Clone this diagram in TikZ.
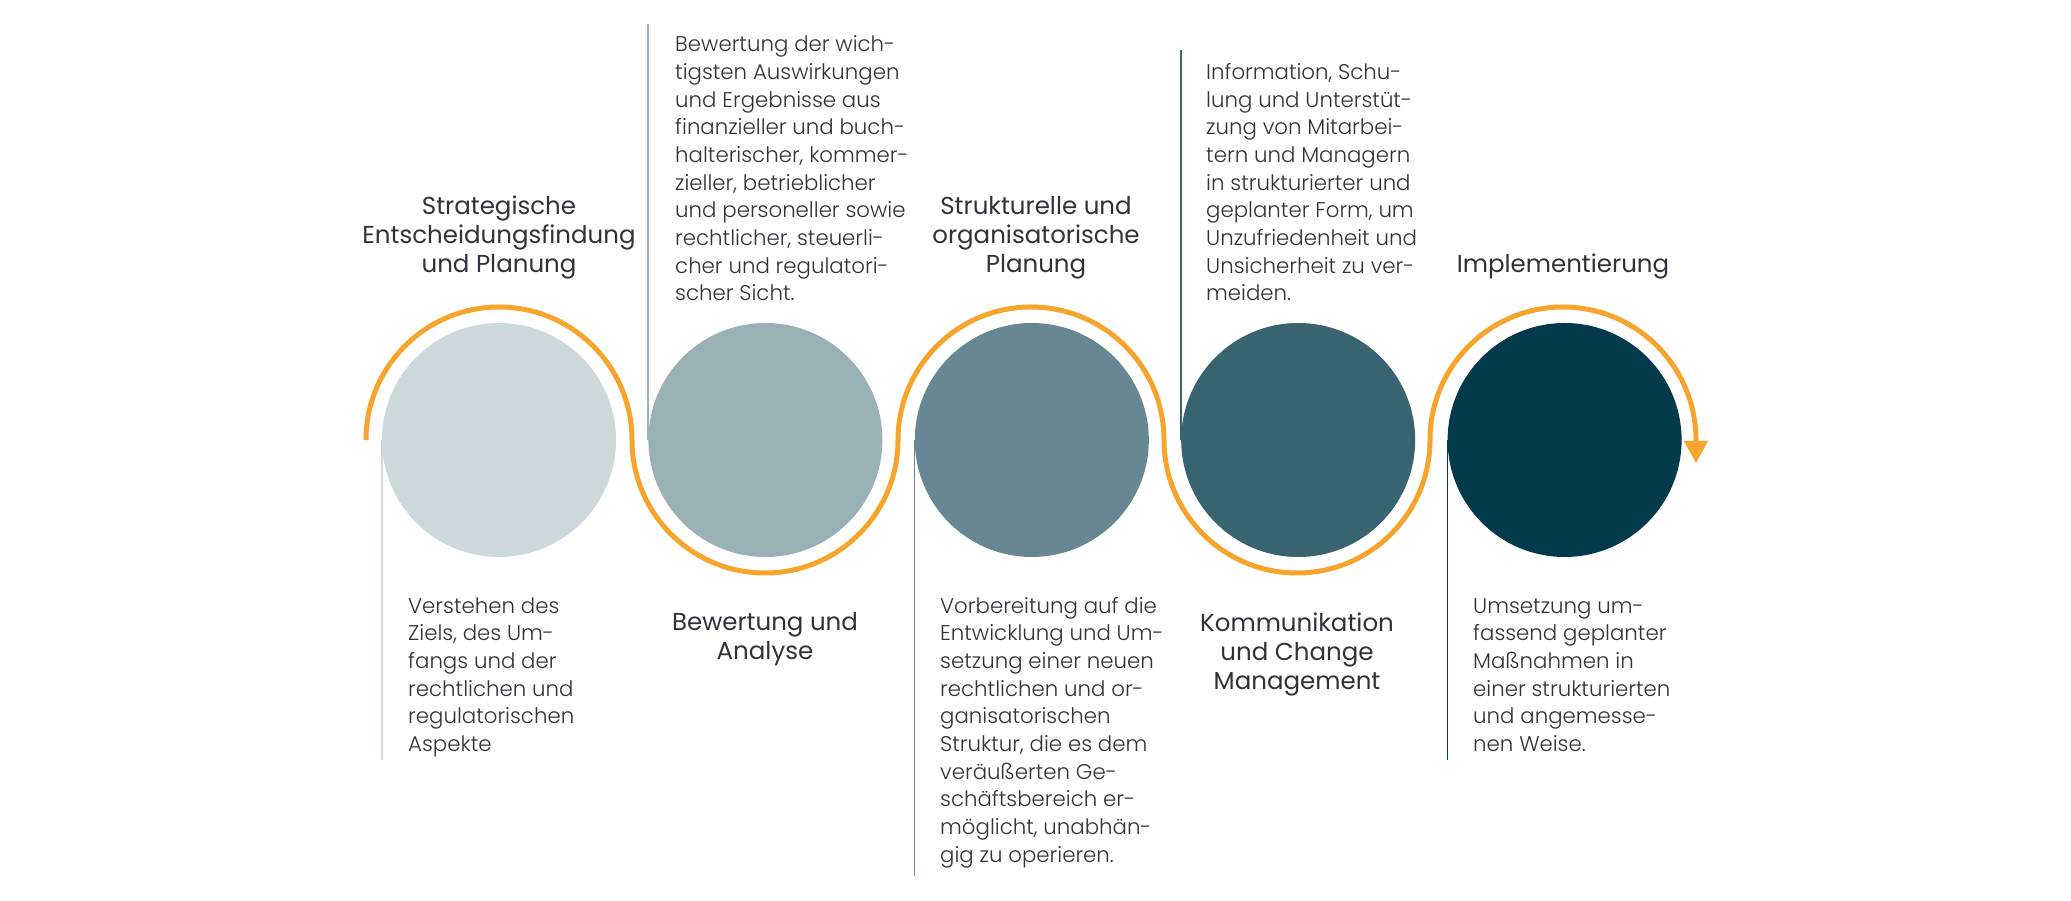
\documentclass[tikz,border=0pt]{standalone}
\usepackage{fontspec}
\setmainfont{Poppins}
\newfontfamily\lightfont{Poppins Light}
\usetikzlibrary{positioning}
\usetikzlibrary{arrows.meta}

\definecolor{stepA}{HTML}{CCD8DC}
\definecolor{stepB}{HTML}{9AB0B7}
\definecolor{stepC}{HTML}{678893}
\definecolor{stepD}{HTML}{386370}
\definecolor{stepE}{HTML}{033A4B}
\definecolor{flowcol}{HTML}{F6A42C}
\definecolor{inkcol}{HTML}{30323A}

\begin{document}
\begin{tikzpicture}[x=1pt, y=1pt, node distance=32pt]
    \tikzstyle{disc} = [circle, minimum size=234pt, inner sep=0pt];
    \tikzstyle{headtext} = [align=center, text=inkcol, inner sep=0pt,
    font=\fontsize{24.5}{29.3}\selectfont, anchor=base];
    \tikzstyle{bodytext} = [align=left, text=inkcol, inner sep=0pt,
    font=\lightfont\fontsize{21.3}{27.7}\selectfont, anchor=base west];
    \tikzstyle{flowline} = [draw=flowcol, line width=5pt,
    -{Triangle[width=23pt, length=22pt]}];
    \tikzstyle{stem} = [line width=1.5pt];
    \useasboundingbox (0,-461) rectangle (2071,440);
    % circles
    \node [disc, fill=stepA] (a) at (499,0) {};
    \node [disc, fill=stepB, right=of a] (b) {};
    \node [disc, fill=stepC, right=of b] (c) {};
    \node [disc, fill=stepD, right=of c] (d) {};
    \node [disc, fill=stepE, right=of d] (e) {};
    % stems
    \draw[stem, draw=stepA] (a.west) -- ++(0,-320);
    \draw[stem, draw=stepB] (b.west) -- ++(0,416);
    \draw[stem, draw=stepC] (c.west) -- ++(0,-436);
    \draw[stem, draw=stepD] (d.west) -- ++(0,390);
    \draw[stem, draw=stepE] (e.west) -- ++(0,-320);
    % orange wave
    \draw[flowline] ([xshift=-133pt]a.center)
        arc[start angle=180, end angle=0, radius=133pt]
        arc[start angle=180, end angle=360, radius=133pt]
        arc[start angle=180, end angle=0, radius=133pt]
        arc[start angle=180, end angle=360, radius=133pt]
        arc[start angle=180, end angle=0, radius=133pt] -- ++(0,-23);
    % titles (base = last line)
    \node [headtext] (ta) at (499,167) {Strategische\\Entscheidungsfindung\\und Planung};
    \node [headtext] (tb) at (765,-220) {Bewertung und\\Analyse};
    \node [headtext] (tc) at (1036,167) {Strukturelle und\\organisatorische\\Planung};
    \node [headtext] (td) at (1297,-249.6) {Kommunikation\\und Change\\Management};
    \node [headtext] (te) at (1563,167) {Implementierung};
    % descriptions
    \node [bodytext] (da) at (408,-311.5) {Verstehen des\\Ziels, des Um-\\fangs und der\\rechtlichen und\\regulatorischen\\Aspekte};
    \node [bodytext] (db) at (675,139) {Bewertung der wich-\\tigsten Auswirkungen\\und Ergebnisse aus\\finanzieller und buch-\\halterischer, kommer-\\zieller, betrieblicher\\und personeller sowie\\rechtlicher, steuerli-\\cher und regulatori-\\scher Sicht.};
    \node [bodytext] (dc) at (940,-422.3) {Vorbereitung auf die\\Entwicklung und Um-\\setzung einer neuen\\rechtlichen und or-\\ganisatorischen\\Struktur, die es dem\\veräußerten Ge-\\schäftsbereich er-\\möglicht, unabhän-\\gig zu operieren.};
    \node [bodytext] (dd) at (1206,139) {Information, Schu-\\lung und Unterstüt-\\zung von Mitarbei-\\tern und Managern\\in strukturierter und\\geplanter Form, um\\Unzufriedenheit und\\Unsicherheit zu ver-\\meiden.};
    \node [bodytext] (de) at (1473,-311.5) {Umsetzung um-\\fassend geplanter\\Maßnahmen in\\einer strukturierten\\und angemesse-\\nen Weise.};
\end{tikzpicture}
\end{document}
